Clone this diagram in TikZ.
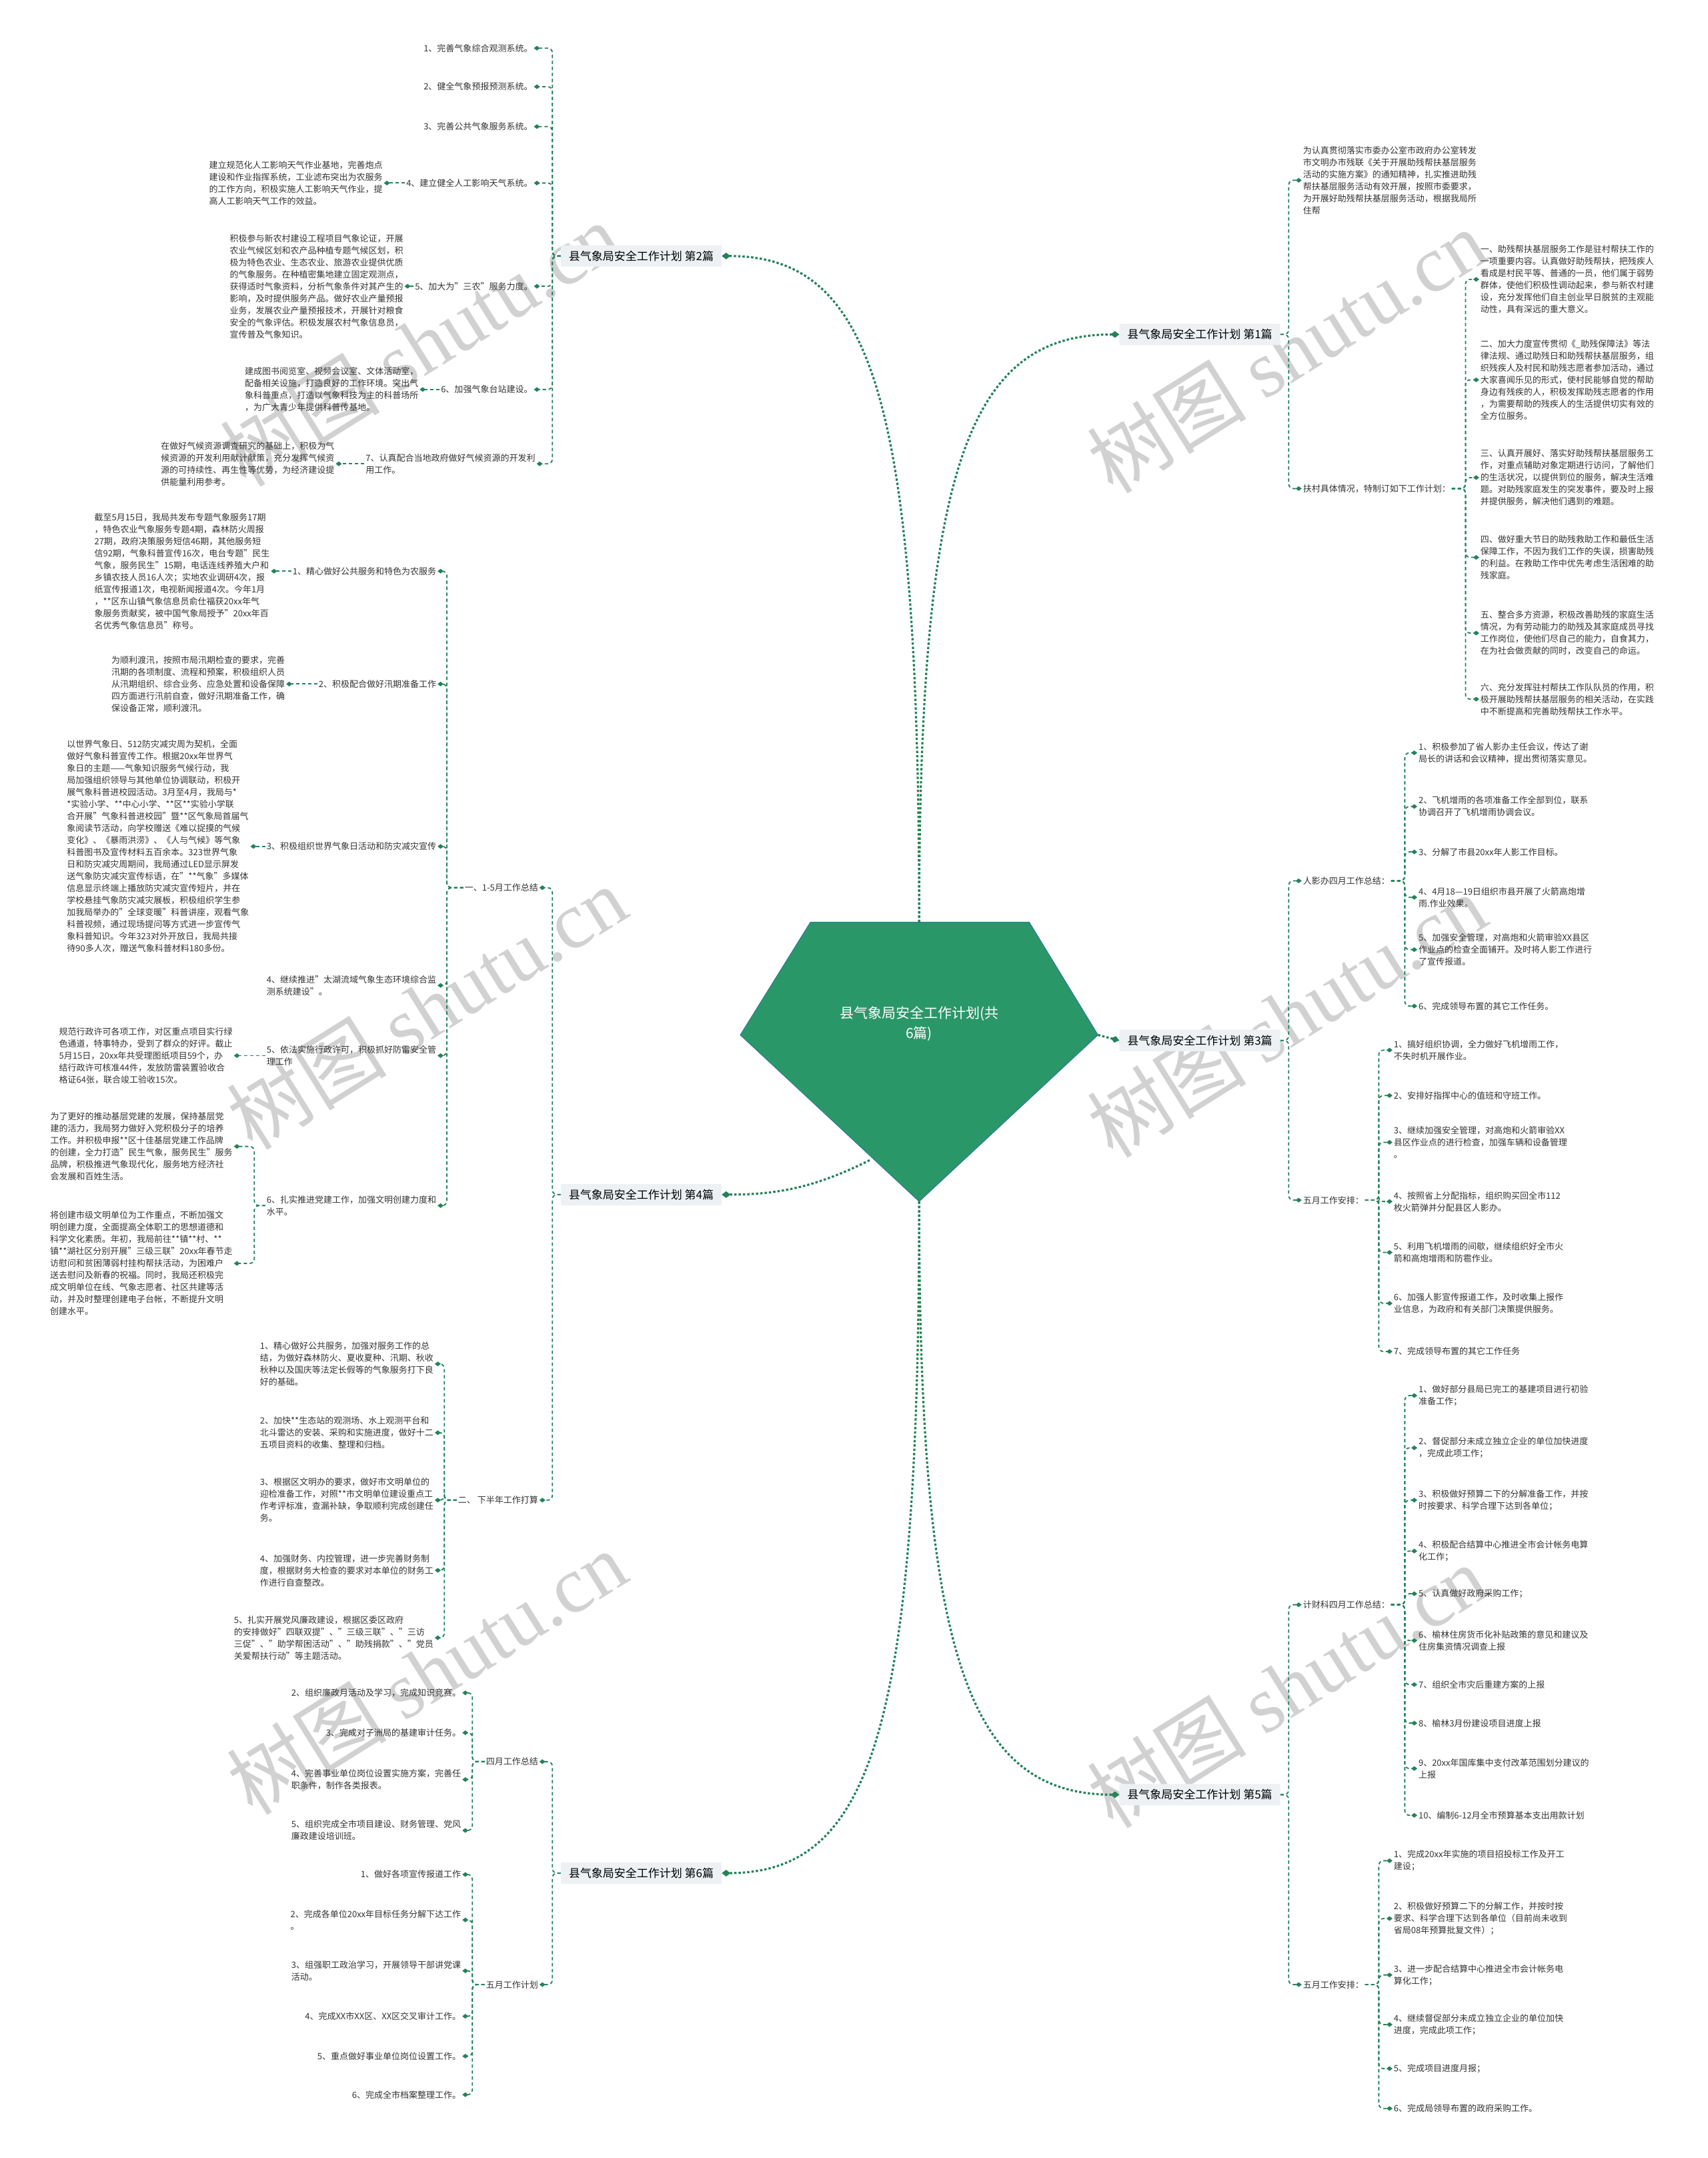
\documentclass[tikz,border=0pt]{standalone}
\usepackage{fontspec}
\setmainfont{Noto Sans CJK SC}
\newfontfamily\wmlatin{Liberation Serif}
\usetikzlibrary{positioning,arrows.meta}
\definecolor{linegreen}{RGB}{35,130,90}
\definecolor{rootgreen}{RGB}{42,151,104}
\definecolor{rootedge}{RGB}{45,120,150}
\definecolor{boxgray}{RGB}{237,241,244}
\definecolor{textgray}{RGB}{51,51,51}

\begin{document}
\begin{tikzpicture}[x=2.063pt,y=-2.063pt,
  leaf/.style={font=\fontsize{13}{18}\selectfont,align=left,inner sep=1pt,outer sep=1pt,text=textgray},
  branch/.style={fill=boxgray,font=\fontsize{17}{20}\selectfont,minimum height=32pt,inner xsep=12pt,rounded corners=2pt,text=black},
  trunk/.style={draw=linegreen,line width=3.2pt,dash pattern=on 3.5pt off 3pt,-{Diamond[length=13pt,width=10pt]}},
  twig/.style={draw=linegreen,line width=1.8pt,dash pattern=on 5pt off 4pt,rounded corners=7pt,-{Diamond[length=9pt,width=7pt]}},
  wmark/.style={text=black!18,font=\fontsize{120}{120}\selectfont,rotate=32}]
\fill[white] (0,0) rectangle (1241,1568);
\useasboundingbox (0,0) rectangle (1241,1568);

% watermarks
\node[wmark] (w1) at (305,250) {树图 {\wmlatin shutu.cn}};
\node[wmark] (w2) at (935,255) {树图 {\wmlatin shutu.cn}};
\node[wmark] (w3) at (310,732) {树图 {\wmlatin shutu.cn}};
\node[wmark] (w4) at (935,738) {树图 {\wmlatin shutu.cn}};
\node[wmark] (w5) at (310,1215) {树图 {\wmlatin shutu.cn}};
\node[wmark] (w6) at (935,1225) {树图 {\wmlatin shutu.cn}};

% centre
\coordinate (rtop) at (668,670);
\coordinate (rright) at (798,752);
\coordinate (rbot) at (668,873);
\coordinate (rlow) at (632,843);
\filldraw[fill=rootgreen,draw=rootedge,line width=1pt] (589,670) -- (748,670) -- (rright) -- (rbot) -- (538,752) -- cycle;
\node[text=white,font=\fontsize{21}{30}\selectfont,align=center] (root) at (668,744) {县气象局安全工作计划(共\\6篇)};

\node[branch] (b1) at (872,243) {县气象局安全工作计划 第1篇};
\node[branch] (b2) at (466,186) {县气象局安全工作计划 第2篇};
\node[branch] (b3) at (872,756) {县气象局安全工作计划 第3篇};
\node[branch] (b4) at (466,868) {县气象局安全工作计划 第4篇};
\node[branch] (b5) at (872,1304) {县气象局安全工作计划 第5篇};
\node[branch] (b6) at (466,1361) {县气象局安全工作计划 第6篇};

% 第2篇
\node[leaf,anchor=east] (a1) at (388,35) {1、完善气象综合观测系统。};
\node[leaf,anchor=east] (a2) at (388,63) {2、健全气象预报预测系统。};
\node[leaf,anchor=east] (a3) at (388,92) {3、完善公共气象服务系统。};
\node[leaf,anchor=east] (a4) at (388,133) {4、建立健全人工影响天气系统。};
\node[leaf,anchor=east] (a4x) at (279,133) {建立规范化人工影响天气作业基地，完善炮点\\建设和作业指挥系统，工业滤布突出为农服务\\的工作方向，积极实施人工影响天气作业，提\\高人工影响天气工作的效益。};
\node[leaf,anchor=east] (a5) at (388,208) {5、加大为"三农"服务力度。};
\node[leaf,anchor=east] (a5x) at (294,208) {积极参与新农村建设工程项目气象论证，开展\\农业气候区划和农产品种植专题气候区划，积\\极为特色农业、生态农业、旅游农业提供优质\\的气象服务。在种植密集地建立固定观测点，\\获得适时气象资料，分析气象条件对其产生的\\影响，及时提供服务产品。做好农业产量预报\\业务，发展农业产量预报技术，开展针对粮食\\安全的气象评估。积极发展农村气象信息员，\\宣传普及气象知识。};
\node[leaf,anchor=east] (a6) at (388,283) {6、加强气象台站建设。};
\node[leaf,anchor=east] (a6x) at (305,283) {建成图书阅览室、视频会议室、文体活动室，\\配备相关设施，打造良好的工作环境。突出气\\象科普重点，打造以气象科技为主的科普场所\\，为广大青少年提供科普传基地。};
\node[leaf,anchor=east] (a7) at (390,337) {7、认真配合当地政府做好气候资源的开发利\\用工作。};
\node[leaf,anchor=east] (a7x) at (244,337) {在做好气候资源调查研究的基础上，积极为气\\候资源的开发利用献计献策，充分发挥气候资\\源的可持续性、再生性等优势，为经济建设提\\供能量利用参考。};

% 第4篇
\node[leaf,anchor=east] (c1) at (392,645) {一、1-5月工作总结};
\node[leaf,anchor=east] (c2) at (392,1090) {二、 下半年工作打算};
\node[leaf,anchor=east] (d1) at (318,415) {1、精心做好公共服务和特色为农服务};
\node[leaf,anchor=east] (d1x) at (197,415) {截至5月15日，我局共发布专题气象服务17期\\，特色农业气象服务专题4期，森林防火周报\\27期，政府决策服务短信46期，其他服务短\\信92期，气象科普宣传16次，电台专题"民生\\气象，服务民生"15期，电话连线养殖大户和\\乡镇农技人员16人次；实地农业调研4次，报\\纸宣传报道1次，电视新闻报道4次。今年1月\\，**区东山镇气象信息员俞仕福获20xx年气\\象服务贡献奖，被中国气象局授予"20xx年百\\名优秀气象信息员"称号。};
\node[leaf,anchor=east] (d2) at (318,497) {2、积极配合做好汛期准备工作};
\node[leaf,anchor=east] (d2x) at (208,497) {为顺利渡汛，按照市局汛期检查的要求，完善\\汛期的各项制度、流程和预案，积极组织人员\\从汛期组织、综合业务、应急处置和设备保障\\四方面进行汛前自查，做好汛期准备工作，确\\保设备正常，顺利渡汛。};
\node[leaf,anchor=east] (d3) at (318,615) {3、积极组织世界气象日活动和防灾减灾宣传};
\node[leaf,anchor=east] (d3x) at (182,615) {以世界气象日、512防灾减灾周为契机，全面\\做好气象科普宣传工作。根据20xx年世界气\\象日的主题——气象知识服务气候行动，我\\局加强组织领导与其他单位协调联动，积极开\\展气象科普进校园活动。3月至4月，我局与*\\*实验小学、**中心小学、**区**实验小学联\\合开展"气象科普进校园"暨**区气象局首届气\\象阅读节活动，向学校赠送《难以捉摸的气候\\变化》、《暴雨洪涝》、《人与气候》等气象\\科普图书及宣传材料五百余本。323世界气象\\日和防灾减灾周期间，我局通过LED显示屏发\\送气象防灾减灾宣传标语，在"**气象"多媒体\\信息显示终端上播放防灾减灾宣传短片，并在\\学校悬挂气象防灾减灾展板，积极组织学生参\\加我局举办的"全球变暖"科普讲座，观看气象\\科普视频，通过现场提问等方式进一步宣传气\\象科普知识。今年323对外开放日，我局共接\\待90多人次，赠送气象科普材料180多份。};
\node[leaf,anchor=east] (d4) at (318,716) {4、继续推进"太湖流域气象生态环境综合监\\测系统建设"。};
\node[leaf,anchor=east] (d5) at (318,767) {5、依法实施行政许可，积极抓好防雷安全管\\理工作};
\node[leaf,anchor=east] (d5x) at (170,767) {规范行政许可各项工作，对区重点项目实行绿\\色通道，特事特办，受到了群众的好评。截止\\5月15日，20xx年共受理图纸项目59个，办\\结行政许可核准44件，发放防雷装置验收合\\格证64张，联合竣工验收15次。};
\node[leaf,anchor=east] (d6) at (318,876) {6、扎实推进党建工作，加强文明创建力度和\\水平。};
\node[leaf,anchor=east] (d6x1) at (170,833) {为了更好的推动基层党建的发展，保持基层党\\建的活力，我局努力做好入党积极分子的培养\\工作。并积极申报**区十佳基层党建工作品牌\\的创建，全力打造"民生气象，服务民生"服务\\品牌，积极推进气象现代化，服务地方经济社\\会发展和百姓生活。};
\node[leaf,anchor=east] (d6x2) at (170,918) {将创建市级文明单位为工作重点，不断加强文\\明创建力度，全面提高全体职工的思想道德和\\科学文化素质。年初，我局前往**镇**村、**\\镇**湖社区分别开展"三级三联"20xx年春节走\\访慰问和贫困薄弱村挂构帮扶活动，为困难户\\送去慰问及新春的祝福。同时，我局还积极完\\成文明单位在线、气象志愿者、社区共建等活\\动，并及时整理创建电子台帐，不断提升文明\\创建水平。};
\node[leaf,anchor=east] (e1) at (316,991) {1、精心做好公共服务，加强对服务工作的总\\结，为做好森林防火、夏收夏种、汛期、秋收\\秋种以及国庆等法定长假等的气象服务打下良\\好的基础。};
\node[leaf,anchor=east] (e2) at (316,1041) {2、加快**生态站的观测场、水上观测平台和\\北斗雷达的安装、采购和实施进度，做好十二\\五项目资料的收集、整理和归档。};
\node[leaf,anchor=east] (e3) at (316,1090) {3、根据区文明办的要求，做好市文明单位的\\迎检准备工作，对照**市文明单位建设重点工\\作考评标准，查漏补缺，争取顺利完成创建任\\务。};
\node[leaf,anchor=east] (e4) at (316,1141) {4、加强财务、内控管理，进一步完善财务制\\度，根据财务大检查的要求对本单位的财务工\\作进行自查整改。};
\node[leaf,anchor=east] (e5) at (316,1190) {5、扎实开展党风廉政建设，根据区委区政府\\的安排做好"四联双提"、"三级三联"、"三访\\三促"、"助学帮困活动"、"助残捐款"、"党员\\关爱帮扶行动"等主题活动。};

% 第6篇
\node[leaf,anchor=east] (f1) at (392,1280) {四月工作总结};
\node[leaf,anchor=east] (f2) at (392,1442) {五月工作计划};
\node[leaf,anchor=east] (g2) at (336,1230) {2、组织廉政月活动及学习，完成知识竞赛。};
\node[leaf,anchor=east] (g3) at (336,1259) {3、完成对子洲局的基建审计任务。};
\node[leaf,anchor=east] (g4) at (336,1293) {4、完善事业单位岗位设置实施方案，完善任\\职条件，制作各类报表。};
\node[leaf,anchor=east] (g5) at (336,1330) {5、组织完成全市项目建设、财务管理、党风\\廉政建设培训班。};
\node[leaf,anchor=east] (h1) at (336,1362) {1、做好各项宣传报道工作};
\node[leaf,anchor=east] (h2) at (336,1395) {2、完成各单位20xx年目标任务分解下达工作\\。};
\node[leaf,anchor=east] (h3) at (336,1432) {3、组强职工政治学习，开展领导干部讲党课\\活动。};
\node[leaf,anchor=east] (h4) at (336,1465) {4、完成XX市XX区、XX区交叉审计工作。};
\node[leaf,anchor=east] (h5) at (336,1494) {5、重点做好事业单位岗位设置工作。};
\node[leaf,anchor=east] (h6) at (336,1522) {6、完成全市档案整理工作。};

% 第1篇
\node[leaf,anchor=west] (i1) at (946,131) {为认真贯彻落实市委办公室市政府办公室转发\\市文明办市残联《关于开展助残帮扶基层服务\\活动的实施方案》的通知精神，扎实推进助残\\帮扶基层服务活动有效开展，按照市委要求，\\为开展好助残帮扶基层服务活动，根据我局所\\住帮};
\node[leaf,anchor=west] (i2) at (946,355) {扶村具体情况，特制订如下工作计划：};
\node[leaf,anchor=west] (j1) at (1075,203) {一、助残帮扶基层服务工作是驻村帮扶工作的\\一项重要内容。认真做好助残帮扶，把残疾人\\看成是村民平等、普通的一员，他们属于弱势\\群体，使他们积极性调动起来，参与新农村建\\设，充分发挥他们自主创业早日脱贫的主观能\\动性，具有深远的重大意义。};
\node[leaf,anchor=west] (j2) at (1075,276) {二、加大力度宣传贯彻《\_助残保障法》等法\\律法规、通过助残日和助残帮扶基层服务，组\\织残疾人及村民和助残志愿者参加活动，通过\\大家喜闻乐见的形式，使村民能够自觉的帮助\\身边有残疾的人，积极发挥助残志愿者的作用\\，为需要帮助的残疾人的生活提供切实有效的\\全方位服务。};
\node[leaf,anchor=west] (j3) at (1075,347) {三、认真开展好、落实好助残帮扶基层服务工\\作，对重点辅助对象定期进行访问，了解他们\\的生活状况，以提供到位的服务，解决生活难\\题。对助残家庭发生的突发事件，要及时上报\\并提供服务，解决他们遇到的难题。};
\node[leaf,anchor=west] (j4) at (1075,405) {四、做好重大节日的助残救助工作和最低生活\\保障工作，不因为我们工作的失误，损害助残\\的利益。在救助工作中优先考虑生活困难的助\\残家庭。};
\node[leaf,anchor=west] (j5) at (1075,460) {五、整合多方资源，积极改善助残的家庭生活\\情况，为有劳动能力的助残及其家庭成员寻找\\工作岗位，使他们尽自己的能力，自食其力，\\在为社会做贡献的同时，改变自己的命运。};
\node[leaf,anchor=west] (j6) at (1075,508) {六、充分发挥驻村帮扶工作队队员的作用，积\\极开展助残帮扶基层服务的相关活动，在实践\\中不断提高和完善助残帮扶工作水平。};

% 第3篇
\node[leaf,anchor=west] (k1) at (946,640) {人影办四月工作总结：};
\node[leaf,anchor=west] (k2) at (946,872) {五月工作安排：};
\node[leaf,anchor=west] (l1) at (1030,547) {1、积极参加了省人影办主任会议，传达了谢\\局长的讲话和会议精神，提出贯彻落实意见。};
\node[leaf,anchor=west] (l2) at (1030,586) {2、飞机增雨的各项准备工作全部到位，联系\\协调召开了飞机增雨协调会议。};
\node[leaf,anchor=west] (l3) at (1030,619) {3、分解了市县20xx年人影工作目标。};
\node[leaf,anchor=west] (l4) at (1030,652) {4、4月18—19日组织市县开展了火箭高炮增\\雨.作业效果。};
\node[leaf,anchor=west] (l5) at (1030,690) {5、加强安全管理，对高炮和火箭审验XX县区\\作业点的检查全面铺开。及时将人影工作进行\\了宣传报道。};
\node[leaf,anchor=west] (l6) at (1030,731) {6、完成领导布置的其它工作任务。};
\node[leaf,anchor=west] (m1) at (1012,763) {1、搞好组织协调，全力做好飞机增雨工作，\\不失时机开展作业。};
\node[leaf,anchor=west] (m2) at (1012,796) {2、安排好指挥中心的值班和守班工作。};
\node[leaf,anchor=west] (m3) at (1012,830) {3、继续加强安全管理，对高炮和火箭审验XX\\县区作业点的进行检查，加强车辆和设备管理\\。};
\node[leaf,anchor=west] (m4) at (1012,873) {4、按照省上分配指标，组织购买回全市112\\枚火箭弹并分配县区人影办。};
\node[leaf,anchor=west] (m5) at (1012,910) {5、利用飞机增雨的间歇，继续组织好全市火\\箭和高炮增雨和防雹作业。};
\node[leaf,anchor=west] (m6) at (1012,947) {6、加强人影宣传报道工作，及时收集上报作\\业信息，为政府和有关部门决策提供服务。};
\node[leaf,anchor=west] (m7) at (1012,982) {7、完成领导布置的其它工作任务};

% 第5篇
\node[leaf,anchor=west] (n1) at (946,1166) {计财科四月工作总结：};
\node[leaf,anchor=west] (n2) at (946,1442) {五月工作安排：};
\node[leaf,anchor=west] (o1) at (1030,1014) {1、做好部分县局已完工的基建项目进行初验\\准备工作；};
\node[leaf,anchor=west] (o2) at (1030,1052) {2、督促部分未成立独立企业的单位加快进度\\，完成此项工作；};
\node[leaf,anchor=west] (o3) at (1030,1090) {3、积极做好预算二下的分解准备工作，并按\\时按要求、科学合理下达到各单位；};
\node[leaf,anchor=west] (o4) at (1030,1127) {4、积极配合结算中心推进全市会计帐务电算\\化工作；};
\node[leaf,anchor=west] (o5) at (1030,1158) {5、认真做好政府采购工作；};
\node[leaf,anchor=west] (o6) at (1030,1192) {6、榆林住房货币化补贴政策的意见和建议及\\住房集资情况调查上报};
\node[leaf,anchor=west] (o7) at (1030,1224) {7、组织全市灾后重建方案的上报};
\node[leaf,anchor=west] (o8) at (1030,1252) {8、榆林3月份建设项目进度上报};
\node[leaf,anchor=west] (o9) at (1030,1285) {9、20xx年国库集中支付改革范围划分建议的\\上报};
\node[leaf,anchor=west] (o10) at (1030,1319) {10、编制6-12月全市预算基本支出用款计划};
\node[leaf,anchor=west] (p1) at (1012,1352) {1、完成20xx年实施的项目招投标工作及开工\\建设；};
\node[leaf,anchor=west] (p2) at (1012,1394) {2、积极做好预算二下的分解工作，并按时按\\要求、科学合理下达到各单位（目前尚未收到\\省局08年预算批复文件）；};
\node[leaf,anchor=west] (p3) at (1012,1435) {3、进一步配合结算中心推进全市会计帐务电\\算化工作；};
\node[leaf,anchor=west] (p4) at (1012,1471) {4、继续督促部分未成立独立企业的单位加快\\进度，完成此项工作；};
\node[leaf,anchor=west] (p5) at (1012,1503) {5、完成项目进度月报；};
\node[leaf,anchor=west] (p6) at (1012,1532) {6、完成局领导布置的政府采购工作。};

% connectors from the centre
\draw[trunk] (rtop) .. controls +(0,-330) and +(-110,0) .. (b1.west);
\draw[trunk] (rtop) .. controls +(0,-380) and +(110,0) .. (b2.east);
\draw[trunk] (rright) -- (b3.west);
\draw[trunk] (rlow) .. controls +(-40,20) and +(40,0) .. (b4.east);
\draw[trunk] (rbot) .. controls +(0,330) and +(-110,0) .. (b5.west);
\draw[trunk] (rbot) .. controls +(0,380) and +(110,0) .. (b6.east);

% left side
\draw[twig] (b2.west) -- ++(-6,0) |- (a1.east); \draw[twig] (b2.west) -- ++(-6,0) |- (a2.east); \draw[twig] (b2.west) -- ++(-6,0) |- (a3.east);
\draw[twig] (b2.west) -- ++(-6,0) |- (a4.east); \draw[twig] (b2.west) -- ++(-6,0) |- (a5.east); \draw[twig] (b2.west) -- ++(-6,0) |- (a6.east);
\draw[twig] (b2.west) -- ++(-6,0) |- (a7.east);
\draw[twig] (a4.west) -- (a4x.east); \draw[twig] (a5.west) -- (a5x.east); \draw[twig] (a6.west) -- (a6x.east); \draw[twig] (a7.west) -- (a7x.east);
\draw[twig] (b4.west) -- ++(-6,0) |- (c1.east); \draw[twig] (b4.west) -- ++(-6,0) |- (c2.east);
\draw[twig] (c1.west) -- ++(-12,0) |- (d1.east); \draw[twig] (c1.west) -- ++(-12,0) |- (d2.east); \draw[twig] (c1.west) -- ++(-12,0) |- (d3.east);
\draw[twig] (c1.west) -- ++(-12,0) |- (d4.east); \draw[twig] (c1.west) -- ++(-12,0) |- (d5.east); \draw[twig] (c1.west) -- ++(-12,0) |- (d6.east);
\draw[twig] (d1.west) -- (d1x.east); \draw[twig] (d2.west) -- (d2x.east); \draw[twig] (d3.west) -- (d3x.east); \draw[twig] (d5.west) -- (d5x.east);
\draw[twig] (d6.west) -- ++(-8,0) |- (d6x1.east); \draw[twig] (d6.west) -- ++(-8,0) |- (d6x2.east);
\draw[twig] (c2.west) -- ++(-9,0) |- (e1.east); \draw[twig] (c2.west) -- ++(-9,0) |- (e2.east); \draw[twig] (c2.west) -- ++(-9,0) |- (e3.east);
\draw[twig] (c2.west) -- ++(-9,0) |- (e4.east); \draw[twig] (c2.west) -- ++(-9,0) |- (e5.east);
\draw[twig] (b6.west) -- ++(-6,0) |- (f1.east); \draw[twig] (b6.west) -- ++(-6,0) |- (f2.east);
\draw[twig] (f1.west) -- ++(-9,0) |- (g2.east); \draw[twig] (f1.west) -- ++(-9,0) |- (g3.east); \draw[twig] (f1.west) -- ++(-9,0) |- (g4.east); \draw[twig] (f1.west) -- ++(-9,0) |- (g5.east);
\draw[twig] (f2.west) -- ++(-9,0) |- (h1.east); \draw[twig] (f2.west) -- ++(-9,0) |- (h2.east); \draw[twig] (f2.west) -- ++(-9,0) |- (h3.east);
\draw[twig] (f2.west) -- ++(-9,0) |- (h4.east); \draw[twig] (f2.west) -- ++(-9,0) |- (h5.east); \draw[twig] (f2.west) -- ++(-9,0) |- (h6.east);

% right side
\draw[twig] (b1.east) -- ++(6,0) |- (i1.west); \draw[twig] (b1.east) -- ++(6,0) |- (i2.west);
\draw[twig] (i2.east) -- ++(10,0) |- (j1.west); \draw[twig] (i2.east) -- ++(10,0) |- (j2.west); \draw[twig] (i2.east) -- ++(10,0) |- (j3.west);
\draw[twig] (i2.east) -- ++(10,0) |- (j4.west); \draw[twig] (i2.east) -- ++(10,0) |- (j5.west); \draw[twig] (i2.east) -- ++(10,0) |- (j6.west);
\draw[twig] (b3.east) -- ++(6,0) |- (k1.west); \draw[twig] (b3.east) -- ++(6,0) |- (k2.west);
\draw[twig] (k1.east) -- ++(10,0) |- (l1.west); \draw[twig] (k1.east) -- ++(10,0) |- (l2.west); \draw[twig] (k1.east) -- ++(10,0) |- (l3.west);
\draw[twig] (k1.east) -- ++(10,0) |- (l4.west); \draw[twig] (k1.east) -- ++(10,0) |- (l5.west); \draw[twig] (k1.east) -- ++(10,0) |- (l6.west);
\draw[twig] (k2.east) -- ++(10,0) |- (m1.west); \draw[twig] (k2.east) -- ++(10,0) |- (m2.west); \draw[twig] (k2.east) -- ++(10,0) |- (m3.west); \draw[twig] (k2.east) -- ++(10,0) |- (m4.west);
\draw[twig] (k2.east) -- ++(10,0) |- (m5.west); \draw[twig] (k2.east) -- ++(10,0) |- (m6.west); \draw[twig] (k2.east) -- ++(10,0) |- (m7.west);
\draw[twig] (b5.east) -- ++(6,0) |- (n1.west); \draw[twig] (b5.east) -- ++(6,0) |- (n2.west);
\draw[twig] (n1.east) -- ++(10,0) |- (o1.west); \draw[twig] (n1.east) -- ++(10,0) |- (o2.west); \draw[twig] (n1.east) -- ++(10,0) |- (o3.west); \draw[twig] (n1.east) -- ++(10,0) |- (o4.west);
\draw[twig] (n1.east) -- ++(10,0) |- (o5.west); \draw[twig] (n1.east) -- ++(10,0) |- (o6.west); \draw[twig] (n1.east) -- ++(10,0) |- (o7.west);
\draw[twig] (n1.east) -- ++(10,0) |- (o8.west); \draw[twig] (n1.east) -- ++(10,0) |- (o9.west); \draw[twig] (n1.east) -- ++(10,0) |- (o10.west);
\draw[twig] (n2.east) -- ++(10,0) |- (p1.west); \draw[twig] (n2.east) -- ++(10,0) |- (p2.west); \draw[twig] (n2.east) -- ++(10,0) |- (p3.west);
\draw[twig] (n2.east) -- ++(10,0) |- (p4.west); \draw[twig] (n2.east) -- ++(10,0) |- (p5.west); \draw[twig] (n2.east) -- ++(10,0) |- (p6.west);
\end{tikzpicture}
\end{document}
